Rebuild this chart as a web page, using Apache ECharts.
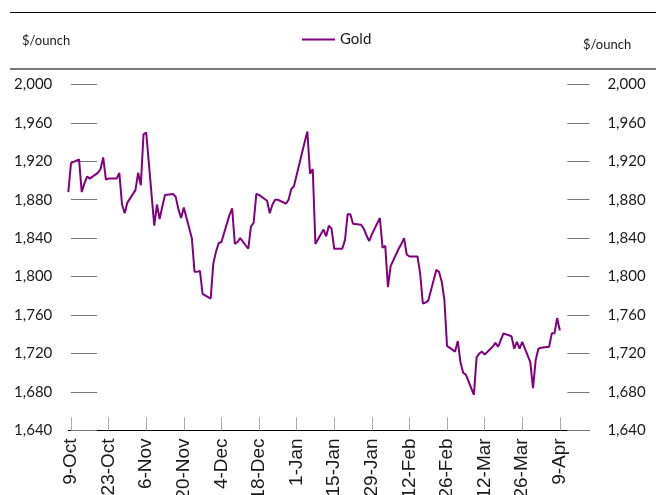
<!DOCTYPE html>
<html>
<head>
<meta charset="utf-8">
<script src="https://cdn.jsdelivr.net/npm/echarts@6/dist/echarts.min.js"></script>
<style>html,body{margin:0;padding:0;background:#fff}#c{width:662px;height:495px}</style>
</head>
<body>
<div id="c"></div>
<script>
const dates = [
'2020-10-08','2020-10-09','2020-10-12','2020-10-13','2020-10-14','2020-10-15','2020-10-16',
'2020-10-19','2020-10-20','2020-10-21','2020-10-22','2020-10-23',
'2020-10-26','2020-10-27','2020-10-28','2020-10-29','2020-10-30',
'2020-11-02','2020-11-03','2020-11-04','2020-11-05','2020-11-06',
'2020-11-09','2020-11-10','2020-11-11','2020-11-12','2020-11-13',
'2020-11-16','2020-11-17','2020-11-18','2020-11-19','2020-11-20',
'2020-11-23','2020-11-24','2020-11-25','2020-11-26','2020-11-27',
'2020-11-30','2020-12-01','2020-12-02','2020-12-03','2020-12-04',
'2020-12-07','2020-12-08','2020-12-09','2020-12-10','2020-12-11',
'2020-12-14','2020-12-15','2020-12-16','2020-12-17','2020-12-18',
'2020-12-21','2020-12-22','2020-12-23','2020-12-24','2020-12-25',
'2020-12-28','2020-12-29','2020-12-30','2020-12-31',
'2021-01-04','2021-01-05','2021-01-06','2021-01-07','2021-01-08',
'2021-01-11','2021-01-12','2021-01-13','2021-01-14','2021-01-15',
'2021-01-18','2021-01-19','2021-01-20','2021-01-21','2021-01-22',
'2021-01-25','2021-01-26','2021-01-27','2021-01-28','2021-01-29',
'2021-02-01','2021-02-02','2021-02-03','2021-02-04','2021-02-05',
'2021-02-08','2021-02-09','2021-02-10','2021-02-11','2021-02-12',
'2021-02-15','2021-02-16','2021-02-17','2021-02-18','2021-02-19',
'2021-02-22','2021-02-23','2021-02-24','2021-02-25','2021-02-26',
'2021-03-01','2021-03-02','2021-03-03','2021-03-04','2021-03-05',
'2021-03-08','2021-03-09','2021-03-10','2021-03-11','2021-03-12',
'2021-03-15','2021-03-16','2021-03-17','2021-03-18','2021-03-19',
'2021-03-22','2021-03-23','2021-03-24','2021-03-25','2021-03-26',
'2021-03-29','2021-03-30','2021-03-31','2021-04-01','2021-04-02',
'2021-04-05','2021-04-06','2021-04-07','2021-04-08','2021-04-09'
];
const gold = [
1888,1918,1922,1888,1897,1904,1902,
1908,1912,1924,1901,1902,
1902,1908,1875,1866,1877,
1890,1908,1895,1948,1950,
1853,1875,1860,1873,1885,
1886,1883,1870,1861,1872,
1840,1805,1805,1806,1782,
1777,1814,1826,1835,1836,
1864,1871,1834,1836,1840,
1829,1852,1856,1886,1885,
1879,1866,1875,1880,1880,
1876,1880,1891,1894,
1940,1951,1907,1912,1834,
1849,1842,1853,1850,1829,
1829,1838,1865,1865,1855,
1854,1850,1843,1837,1844,
1861,1830,1832,1789,1811,
1829,1834,1840,1823,1821,
1821,1803,1772,1773,1775,
1807,1805,1795,1776,1728,
1722,1733,1711,1700,1698,
1677,1716,1720,1722,1719,
1727,1731,1727,1734,1741,
1738,1725,1732,1725,1732,
1711,1684,1713,1725,1726,
1727,1741,1741,1757,1744
];
const xTickDates = ['2020-10-09','2020-10-23','2020-11-06','2020-11-20','2020-12-04','2020-12-18',
'2021-01-01','2021-01-15','2021-01-29','2021-02-12','2021-02-26','2021-03-12','2021-03-26','2021-04-09'];
const xStart = '2020-10-08';
const xEnd = '2021-04-20';
const yMin = 1640, yMax = 2000, yStep = 40;
const seriesName = 'Gold';
const unitLabel = '$/ounch';

const MONTHS = ['Jan','Feb','Mar','Apr','May','Jun','Jul','Aug','Sep','Oct','Nov','Dec'];
const BASE = Date.UTC(2020, 9, 9);
function dayOf(s) {
  const p = s.split('-').map(Number);
  return Math.round((Date.UTC(p[0], p[1] - 1, p[2]) - BASE) / 86400000);
}
function dayLabel(v) {
  const d = new Date(BASE + Math.round(v) * 86400000);
  return d.getUTCDate() + '-' + MONTHS[d.getUTCMonth()];
}
function fmt(v) { return String(v).replace(/\B(?=(\d{3})+(?!\d))/g, ','); }

const points = dates.map((d, i) => [dayOf(d), gold[i]]);
const tickVals = xTickDates.map(dayOf);

const chart = echarts.init(document.getElementById('c'), null, {renderer: 'canvas'});
const yLabelStyle = {fontFamily: 'Lato', fontSize: 15, color: '#1a1a1a'};
chart.setOption({
  animation: false,
  backgroundColor: '#fff',
  grid: {left: 68.3, right: 72.6, top: 84.4, bottom: 64.6, containLabel: false, outerBoundsMode: 'none'},
  legend: {
    data: [seriesName], left: 302, top: 32, padding: 0, icon: 'rect', itemWidth: 33, itemHeight: 2, itemGap: 5,
    textStyle: {fontFamily: 'Lato', fontSize: 15, color: '#1a1a1a'}
  },
  xAxis: {
    type: 'value', min: dayOf(xStart), max: dayOf(xEnd),
    splitLine: {show: false},
    axisLine: {show: true, lineStyle: {color: '#000', width: 1}},
    axisTick: {show: true, inside: true, length: 13, customValues: tickVals, lineStyle: {color: '#aaa', width: 1}},
    axisLabel: {
      show: true, customValues: tickVals, rotate: 90, margin: 8, hideOverlap: false,
      fontFamily: 'Liberation Sans', fontSize: 19, color: '#1a1a1a',
      formatter: dayLabel
    }
  },
  yAxis: [
    {
      type: 'value', position: 'left', min: yMin, max: yMax, interval: yStep,
      splitLine: {show: false}, axisLine: {show: false},
      axisTick: {show: true, inside: true, length: 26, lineStyle: {color: '#777', width: 1}},
      axisLabel: Object.assign({margin: 16, formatter: fmt}, yLabelStyle)
    },
    {
      type: 'value', position: 'right', min: yMin, max: yMax, interval: yStep,
      splitLine: {show: false}, axisLine: {show: false},
      axisTick: {show: true, inside: true, length: 22, lineStyle: {color: '#777', width: 1}},
      axisLabel: Object.assign({margin: 18, formatter: fmt}, yLabelStyle)
    }
  ],
  graphic: [
    {type: 'line', shape: {x1: 10, y1: 12.5, x2: 656, y2: 12.5}, style: {stroke: '#000', lineWidth: 1}},
    {type: 'line', shape: {x1: 10, y1: 69, x2: 656, y2: 69}, style: {stroke: '#777', lineWidth: 2}},
    {type: 'text', left: 22, top: 34, style: {text: unitLabel, fontFamily: 'Lato', fontSize: 13, fill: '#1a1a1a'}},
    {type: 'text', left: 583, top: 38, style: {text: unitLabel, fontFamily: 'Lato', fontSize: 13, fill: '#1a1a1a'}}
  ],
  series: [{
    name: seriesName, type: 'line', yAxisIndex: 0, data: points,
    showSymbol: false, symbol: 'none',
    lineStyle: {color: '#800080', width: 2},
    itemStyle: {color: '#800080'}
  }]
});
</script>
</body>
</html>
